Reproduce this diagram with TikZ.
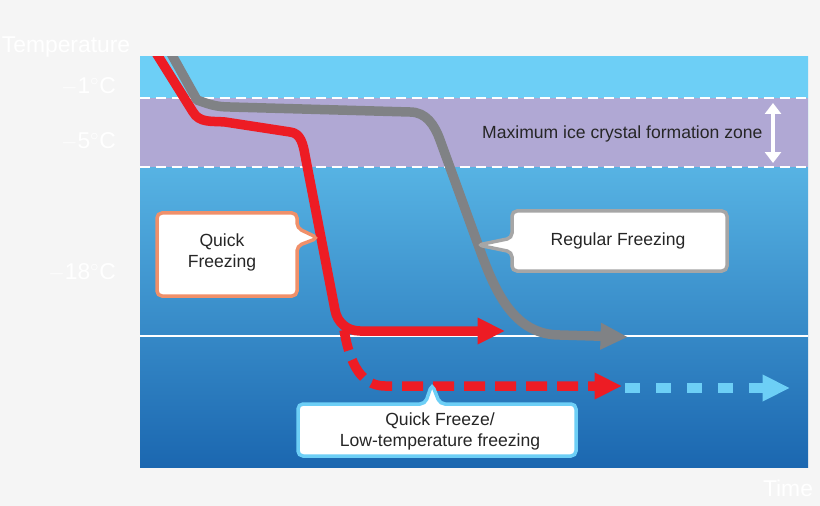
\documentclass[tikz,border=0pt]{standalone}
\usepackage{fontspec}
\setmainfont{Liberation Sans}
\usetikzlibrary{arrows.meta}
\definecolor{bgray}{HTML}{F5F5F5}
\definecolor{skytop}{HTML}{6DCFF6}
\definecolor{deepblue}{HTML}{1B67B0}
\definecolor{zone}{HTML}{B0A8D4}
\definecolor{qred}{HTML}{ED1C24}
\definecolor{rgray}{HTML}{808285}
\definecolor{qorange}{HTML}{F0906A}
\definecolor{lblue}{HTML}{6DCFF6}
\tikzset{
  axislabel/.style={text=white, font=\fontsize{13}{15}\selectfont},
  curve/.style={line width=0.19cm, line join=round},
  bigtip/.style={-{Triangle[length=0.55cm, width=0.5cm]}},
  callout/.style={fill=white, line width=0.07cm, rounded corners=0.1cm},
  calltext/.style={align=center, font=\fontsize{10}{12}\selectfont, text=black!85}
}
\begin{document}
\begin{tikzpicture}[x=0.02cm, y=-0.02cm]
    \fill[bgray] (0,0) rectangle (820,506);
    \useasboundingbox (0,0) rectangle (820,506);

    % plot area
    \shade[top color=skytop, bottom color=deepblue] (140,57) rectangle (808,467);
    \fill[skytop] (140,57) rectangle (808,98);
    \fill[zone] (140,98) rectangle (808,167);
    \draw[white, line width=0.04cm, dash pattern=on 0.2cm off 0.12cm] (140,98) -- (808,98);
    \draw[white, line width=0.04cm, dash pattern=on 0.2cm off 0.12cm] (140,167) -- (808,167);
    \draw[white, line width=0.03cm] (140,336) -- (808,336);

    % axis labels
    \node[axislabel] (temp) at (66,47) {Temperature};
    \node[axislabel, anchor=east] (t1) at (122,86) {$-$1$^\circ$C};
    \node[axislabel, anchor=east] (t5) at (122,141) {$-$5$^\circ$C};
    \node[axislabel, anchor=east] (t18) at (122,272) {$-$18$^\circ$C};
    \node[axislabel] (time) at (788,488) {Time};

    % zone
    \node[calltext, anchor=west] (zonetext) at (476,134) {Maximum ice crystal formation zone};
    \coordinate (ztop) at (773,103);
    \coordinate (zbot) at (773,163);
    \draw[white, line width=0.09cm, {Triangle[length=0.22cm, width=0.32cm]}-{Triangle[length=0.22cm, width=0.32cm]}] (ztop) -- (zbot);

    % curves
    \begin{scope}
      \clip (140,57) rectangle (808,467);
      \draw[curve, rgray, bigtip] (168,48) -- (197,100) to[out=-20, in=180] (230,107) -- (410,112)
        to[out=0, in=110] (440,140) -- (480,250) to[out=-70, in=180] (560,335) -- (628,337);
      \draw[curve, qred, dash pattern=on 0.42cm off 0.2cm, bigtip] (344,330) to[out=-80, in=180] (385,386) -- (622,386);
      \draw[curve, lblue, dash pattern=on 0.3cm off 0.32cm, bigtip] (625,388) -- (790,388);
      \draw[curve, qred, bigtip] (153,48) -- (193,112) to[out=-60, in=175] (225,122) -- (290,132)
        to[out=-5, in=100] (305,155) -- (335,310) to[out=-80, in=180] (360,331) -- (505,331);
    \end{scope}

    % callouts
    \draw[callout, draw=qorange] (157,213) -- (297,213) -- (297,228) -- (318,238) -- (297,246) -- (297,296) -- (157,296) -- cycle;
    \node[calltext] (quick) at (222,252) {Quick\\Freezing};
    \draw[callout, draw=black!35] (512,211) -- (727,211) -- (727,271) -- (512,271) -- (512,252) -- (478,245) -- (512,238) -- cycle;
    \node[calltext] (regular) at (618,241) {Regular Freezing};
    \draw[callout, draw=lblue] (298,404) -- (425,404) -- (432,384) -- (440,404) -- (576,404) -- (576,456) -- (298,456) -- cycle;
    \node[calltext] (lowtemp) at (440,431) {Quick Freeze/\\Low-temperature freezing};
\end{tikzpicture}
\end{document}
